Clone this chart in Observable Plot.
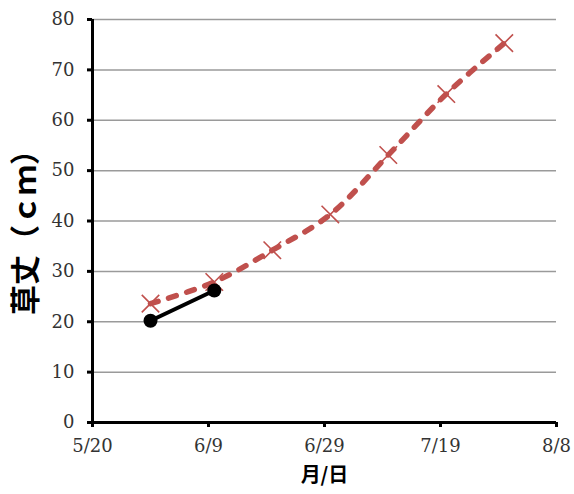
<!DOCTYPE html>
<html>
<head>
<meta charset="utf-8">
<script src="https://cdn.jsdelivr.net/npm/d3@7"></script>
<script src="https://cdn.jsdelivr.net/npm/@observablehq/plot@0.6"></script>
<style>
  html, body { margin: 0; padding: 0; background: #fff; }
</style>
</head>
<body>
<div id="chart"></div>
<script>
const YEAR = 2014;
// Series A (red dashed, × markers)
const redDates = ["5/30", "6/10", "6/20", "6/30", "7/10", "7/20", "7/30"];
const redValues = [23.6, 27.9, 34.2, 41.3, 53.1, 65.2, 75.3];
// Series B (black solid, ● markers)
const blackDates = ["5/30", "6/10"];
const blackValues = [20.2, 26.2];
// Axis ticks
const xTickLabels = ["5/20", "6/9", "6/29", "7/19", "8/8"];
const yTicks = [0, 10, 20, 30, 40, 50, 60, 70, 80];
const xLabel = "月/日";
const yLabel = "草丈（ｃｍ）";

const parse = s => { const [m, d] = s.split("/").map(Number); return new Date(Date.UTC(YEAR, m - 1, d)); };
const fmt = d => `${d.getUTCMonth() + 1}/${d.getUTCDate()}`;

const red = redDates.map((d, i) => ({date: parse(d), value: redValues[i]}));
const black = blackDates.map((d, i) => ({date: parse(d), value: blackValues[i]}));
const xTicks = xTickLabels.map(parse);

const redColor = "#C0504D";
const serif = "DejaVu Serif";
const cjk = "Noto Sans CJK JP";

const chart = Plot.plot({
  width: 574,
  height: 494,
  marginLeft: 92,
  marginRight: 18,
  marginTop: 19,
  marginBottom: 72,
  x: {type: "utc", domain: [xTicks[0], xTicks[xTicks.length - 1]]},
  y: {domain: [0, 80]},
  marks: [
    Plot.ruleY(yTicks.filter(v => v > 0), {stroke: "#9a9a9a", strokeWidth: 1.5}),
    Plot.axisY({ticks: yTicks, tickSize: 5, strokeWidth: 3, stroke: "#000", label: null, tickFormat: () => ""}),
    Plot.axisX({ticks: xTicks, tickSize: 5, strokeWidth: 3, stroke: "#000", label: null, tickFormat: () => ""}),
    Plot.text(yTicks, {x: () => xTicks[0], y: d => d, text: d => String(d), textAnchor: "end", dx: -18, fontSize: 18, fontFamily: serif, fill: "#333"}),
    Plot.text(xTicks, {x: d => d, y: () => 0, text: d => fmt(d), textAnchor: "middle", dy: 24, fontSize: 18, fontFamily: serif, fill: "#333"}),
    Plot.ruleY([0], {stroke: "#000", strokeWidth: 3}),
    Plot.ruleX([xTicks[0]], {stroke: "#000", strokeWidth: 3}),
    Plot.line(red, {x: "date", y: "value", stroke: redColor, strokeWidth: 5.5, strokeDasharray: "8,11", strokeLinecap: "round", curve: "catmull-rom"}),
    Plot.dot(red, {x: "date", y: "value", symbol: "times", r: 8, stroke: redColor, strokeWidth: 1.6}),
    Plot.line(black, {x: "date", y: "value", stroke: "#000", strokeWidth: 4}),
    Plot.dot(black, {x: "date", y: "value", r: 7, fill: "#000", stroke: "none"}),
    Plot.text([xLabel], {frameAnchor: "bottom", textAnchor: "middle", dy: 59, fontSize: 20, fontWeight: "bold", fontFamily: cjk, fill: "#000"}),
    Plot.text([yLabel], {frameAnchor: "left", textAnchor: "middle", dx: -66, dy: 4, rotate: -90, fontSize: 30, fontWeight: "bold", fontFamily: cjk, fill: "#000"})
  ]
});
document.getElementById("chart").appendChild(chart);
</script>
</body>
</html>
